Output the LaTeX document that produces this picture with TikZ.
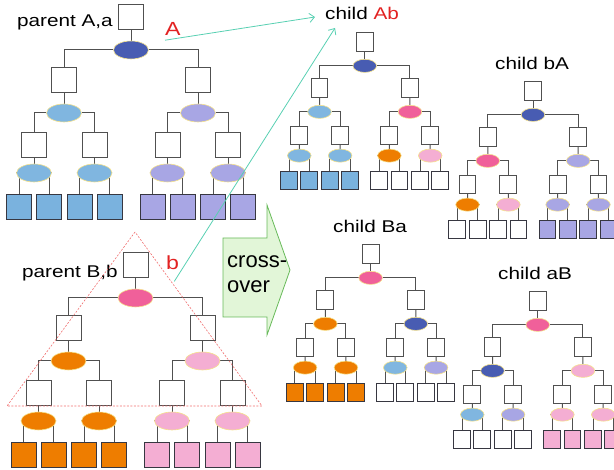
\documentclass[tikz,border=0pt]{standalone}
\usepackage{fontspec}
\setmainfont{Liberation Sans}
\newfontfamily\labelfont{Liberation Sans}[FakeStretch=1.22]
\usetikzlibrary{shapes.geometric,arrows.meta,backgrounds}
\definecolor{genedark}{RGB}{72,92,178}
\definecolor{genesky}{RGB}{128,182,224}
\definecolor{genelilac}{RGB}{168,166,228}
\definecolor{generose}{RGB}{240,96,154}
\definecolor{geneorange}{RGB}{238,125,0}
\definecolor{genepink}{RGB}{244,174,211}
\definecolor{leafsky}{RGB}{122,178,222}
\definecolor{boxgray}{RGB}{80,80,80}
\definecolor{leafrim}{RGB}{55,55,65}
\definecolor{rimyellow}{RGB}{245,226,140}
\definecolor{passteal}{RGB}{88,208,178}
\definecolor{markred}{RGB}{226,34,34}
\definecolor{cutred}{RGB}{240,110,110}
\definecolor{xgreen}{RGB}{104,186,90}
\definecolor{xfill}{RGB}{226,246,216}

% one chromosome tree: #1 root gene, #2/#3 first level, #4--#7 second level, #8/#9 leaves left/right
\newcommand{\gtree}[9]{%
  \node[gbox] (r) at (0,12.5) {};
  \node[gene,fill=#1] (g) at (0,45) {};
  \node[gbox] (bL) at (-67,75.5) {};
  \node[gbox] (bR) at (67,75.5) {};
  \node[gene,fill=#2] (gL) at (-67,108) {};
  \node[gene,fill=#3] (gR) at (67,108) {};
  \foreach \n/\x in {LL/-97,LR/-36.5,RL/36.5,RR/97}
    \node[gbox] (b\n) at (\x,140.5) {};
  \node[gene,fill=#4] (gLL) at (-97,168) {};
  \node[gene,fill=#5] (gLR) at (-36.5,168) {};
  \node[gene,fill=#6] (gRL) at (36.5,168) {};
  \node[gene,fill=#7] (gRR) at (97,168) {};
  \foreach \n/\x in {1/-112,2/-82,3/-51.5,4/-21.5}
    \node[leaf,fill=#8] (l\n) at (\x,202.5) {};
  \foreach \n/\x in {5/21.5,6/51.5,7/82,8/112}
    \node[leaf,fill=#9] (l\n) at (\x,202.5) {};
  \begin{scope}[on background layer]
    \draw[link] (r) -- (g);
    \draw[link] (g) -| (bL.north);
    \draw[link] (g) -| (bR.north);
    \foreach \p in {L,R} {
      \draw[link] (b\p) -- (g\p);
      \draw[link] (g\p) -| (b\p L.north);
      \draw[link] (g\p) -| (b\p R.north);
      \draw[link] (b\p L) -- (g\p L);
      \draw[link] (b\p R) -- (g\p R);
    }
    \foreach \q/\n in {LL/1,LL/2,LR/3,LR/4,RL/5,RL/6,RR/7,RR/8}
      \draw[link] (g\q) -| (l\n.north);
  \end{scope}
}

\begin{document}
\begin{tikzpicture}[x=1pt,y=-1pt,
  gbox/.style={draw=boxgray,fill=white,line width=1pt,minimum size=25,inner sep=0},
  leaf/.style={gbox,draw=leafrim},
  gene/.style={ellipse,draw=rimyellow,line width=0.6pt,minimum width=35,minimum height=18,inner sep=0},
  link/.style={draw=boxgray,line width=1pt},
  lab/.style={font=\labelfont\fontsize{17}{19}\selectfont,inner sep=0},
  redlab/.style={font=\labelfont\fontsize{19}{21}\selectfont,text=markred,inner sep=0},
  kid/.style={xscale=0.675,yscale=0.73,transform shape},
  passarrow/.style={draw=passteal,line width=0.8pt,-{Straight Barb[length=5pt,width=9pt]}},
  cutline/.style={draw=cutred,line width=0.6pt,dash pattern=on 2pt off 1.5pt},
  xarrow/.style={draw=xgreen,fill=xfill,line width=0.8pt}]
  \useasboundingbox (0,0) rectangle (614,470);
  \clip (0,0) rectangle (614,470);

  % parents
  \begin{scope}[shift={(131,5)},name prefix=pA-]
    \gtree{genedark}{genesky}{genelilac}{genesky}{genesky}{genelilac}{genelilac}{leafsky}{genelilac}
  \end{scope}
  \begin{scope}[shift={(135.5,253)},name prefix=pB-]
    \gtree{generose}{geneorange}{genepink}{geneorange}{geneorange}{genepink}{genepink}{geneorange}{genepink}
  \end{scope}

  % children
  \begin{scope}[shift={(364.75,33)},kid,name prefix=cAb-]
    \gtree{genedark}{genesky}{generose}{genesky}{genesky}{geneorange}{genepink}{leafsky}{white}
  \end{scope}
  \begin{scope}[shift={(533,82)},kid,name prefix=cbA-]
    \gtree{genedark}{generose}{genelilac}{geneorange}{genepink}{genelilac}{genelilac}{white}{genelilac}
  \end{scope}
  \begin{scope}[shift={(370.6,245)},kid,name prefix=cBa-]
    \gtree{generose}{geneorange}{genedark}{geneorange}{geneorange}{genesky}{genelilac}{geneorange}{white}
  \end{scope}
  \begin{scope}[shift={(537.75,292)},kid,name prefix=caB-]
    \gtree{generose}{genedark}{genepink}{genesky}{genelilac}{genepink}{genepink}{white}{genepink}
  \end{scope}

  % labels
  \node[lab,anchor=base east] (parA) at (113,27) {parent A,a};
  \node[lab,anchor=base east] (parB) at (118,278) {parent B,b};
  \node[redlab,anchor=base west] (markA) at (165,36) {A};
  \node[redlab,anchor=base west] (markb) at (166,270) {b};
  \node[lab,anchor=base west] (kidAb) at (325,20) {child \textcolor{markred}{Ab}};
  \node[lab,anchor=base west] (kidbA) at (495,70) {child bA};
  \node[lab,anchor=base west] (kidBa) at (333,233) {child Ba};
  \node[lab,anchor=base west] (kidaB) at (498,280) {child aB};

  % crossover
  \draw[xarrow] (223,238) -- (267,238) -- (267,205) -- (290,270) -- (267,335)
    -- (267,317) -- (223,317) -- cycle;
  \node[font=\fontsize{22}{25}\selectfont,align=left,anchor=base west,inner sep=0]
    (xover) at (227,293) {cross-\\over};

  % cut of parent B and passed parts
  \draw[cutline] (135,232) -- (7,406) -- (262,406) -- cycle;
  \coordinate (tipA) at (315,17);
  \coordinate (tipb) at (335,28);
  \draw[passarrow] ([yshift=-4pt]markA.south west) -- (tipA);
  \draw[passarrow] ([xshift=-5pt,yshift=-11pt]markb.south east) -- (tipb);
\end{tikzpicture}
\end{document}
